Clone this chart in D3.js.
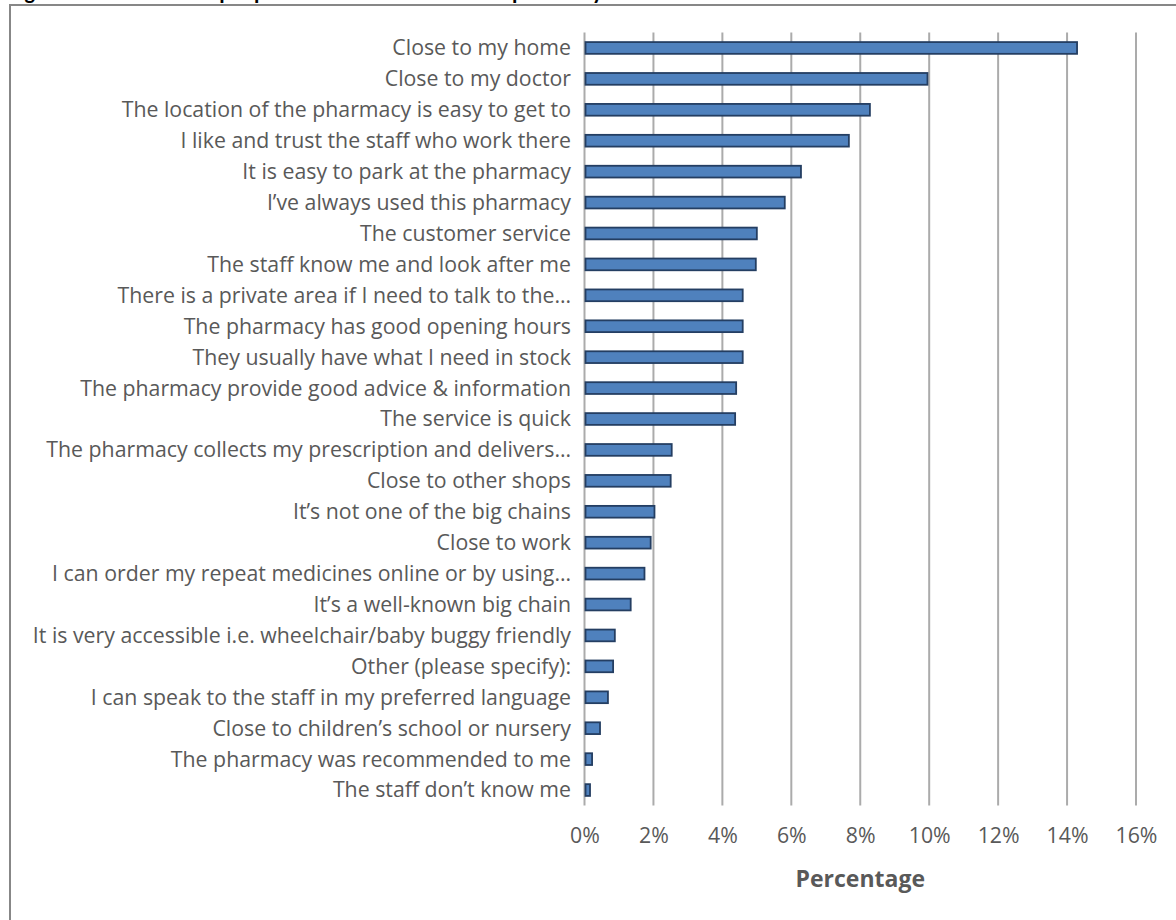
<!DOCTYPE html>
<html><head><meta charset="utf-8">
<script src="https://cdn.jsdelivr.net/npm/d3@7"></script>
<style>html,body{margin:0;padding:0;background:#fff;overflow:hidden}</style>
</head><body>
<svg id="chart" width="1176" height="920"></svg>
<script>
const titleText = "Figure 10: Reasons the people asked chose to use their pharmacy most";
const categories = [
  "Close to my home",
  "Close to my doctor",
  "The location of the pharmacy is easy to get to",
  "I like and trust the staff who work there",
  "It is easy to park at the pharmacy",
  "I\u2019ve always used this pharmacy",
  "The customer service",
  "The staff know me and look after me",
  "There is a private area if I need to talk to the\u2026",
  "The pharmacy has good opening hours",
  "They usually have what I need in stock",
  "The pharmacy provide good advice & information",
  "The service is quick",
  "The pharmacy collects my prescription and delivers\u2026",
  "Close to other shops",
  "It\u2019s not one of the big chains",
  "Close to work",
  "I can order my repeat medicines online or by using\u2026",
  "It\u2019s a well-known big chain",
  "It is very accessible i.e. wheelchair/baby buggy friendly",
  "Other (please specify):",
  "I can speak to the staff in my preferred language",
  "Close to children\u2019s school or nursery",
  "The pharmacy was recommended to me",
  "The staff don\u2019t know me"
];
const values = [14.29, 9.95, 8.28, 7.67, 6.28, 5.81, 5.00, 4.97, 4.59, 4.59, 4.59, 4.40, 4.37,
  2.53, 2.50, 2.03, 1.92, 1.74, 1.34, 0.88, 0.83, 0.68, 0.45, 0.22, 0.16];
const xTicks = [0, 2, 4, 6, 8, 10, 12, 14, 16];
const xTitle = "Percentage";

const svg = d3.select("#chart");
const font = "'Open Sans', 'Noto Sans', sans-serif";

// outer frame
svg.append("rect").attr("x", 10).attr("y", 5).attr("width", 1200).attr("height", 960)
  .attr("fill", "none").attr("stroke", "#878787").attr("stroke-width", 2);

// title (cut off at the top edge, as in the reference)
svg.append("text").attr("x", 9).attr("y", -1.5)
  .attr("font-family", "Carlito, 'Liberation Sans', Arial, sans-serif")
  .attr("font-weight", "bold").attr("font-size", 22).attr("fill", "#000")
  .text(titleText);

const x = d3.scaleLinear().domain([0, 16]).range([584.5, 1136]);
const y = d3.scaleBand().domain(categories).range([32.5, 805.5]).paddingInner(0.62).paddingOuter(0.31);

// gridlines
svg.append("g").selectAll("line").data(xTicks).join("line")
  .attr("x1", d => x(d)).attr("x2", d => x(d))
  .attr("y1", 32.5).attr("y2", 805.5)
  .attr("stroke", "#ababab").attr("stroke-width", 2);

// bars
svg.append("g").selectAll("rect").data(values).join("rect")
  .attr("x", x(0) + 1)
  .attr("y", (d, i) => y(categories[i]))
  .attr("width", d => x(d) - x(0) - 1)
  .attr("height", y.bandwidth())
  .attr("fill", "#4f81bd").attr("stroke", "#243e62").attr("stroke-width", 1.8);

// category labels
const labels = svg.append("g").selectAll("text").data(categories).join("text")
  .attr("x", 571)
  .attr("y", d => y(d) + y.bandwidth() / 2)
  .attr("dy", "0.35em")
  .attr("text-anchor", "end")
  .attr("font-family", font).attr("font-size", 16).attr("fill", "#595959")
  .text(d => d);
// fit font size so the reference label width matches
const refNode = labels.filter(d => d === "The pharmacy provide good advice & information").node();
const w = refNode.getComputedTextLength();
const fs = 16 * 491 / w;
labels.attr("font-size", fs);

// x axis tick labels
const axis = d3.axisBottom(x).tickValues(xTicks).tickFormat(d => d + "%").tickSize(0).tickPadding(0);
const ga = svg.append("g").attr("transform", "translate(0,828)").call(axis);
ga.select(".domain").remove();
ga.selectAll("text").attr("font-family", font).attr("font-size", fs).attr("fill", "#595959");

svg.append("text").attr("x", x(8)).attr("y", 887).attr("text-anchor", "middle")
  .attr("font-family", font).attr("font-weight", "bold").attr("font-size", fs * 1.08)
  .attr("fill", "#595959").text(xTitle);
</script>
</body></html>
